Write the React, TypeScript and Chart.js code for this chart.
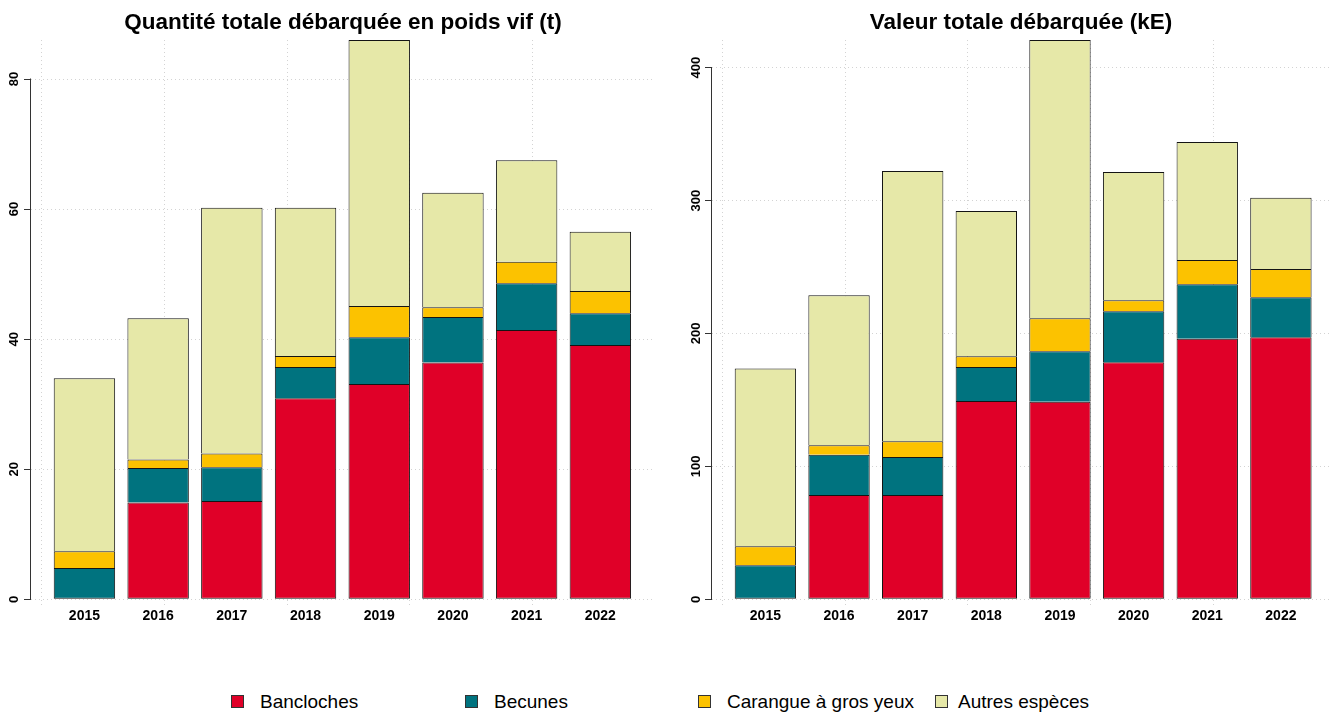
import React, { useEffect, useRef } from "react";
import { Chart, registerables } from "chart.js";

Chart.register(...registerables);

// ---------------- data ----------------
const years = ["2015", "2016", "2017", "2018", "2019", "2020", "2021", "2022"];
const species = ["Bancloches", "Becunes", "Carangue à gros yeux", "Autres espèces"];
const speciesColors = ["#E00028", "#00737F", "#FCC200", "#E6E8A8"];

// Quantité totale débarquée en poids vif (t)
const weightBancloches = [0, 14.9, 15.1, 30.9, 33.1, 36.4, 41.4, 39.1];
const weightBecunes = [4.8, 5.3, 5.2, 4.8, 7.2, 7.0, 7.2, 4.9];
const weightCarangue = [2.6, 1.3, 2.1, 1.7, 4.8, 1.5, 3.3, 3.4];
const weightAutres = [26.6, 21.7, 37.8, 22.8, 40.9, 17.6, 15.6, 9.1];

// Valeur totale débarquée (kE)
const valueBancloches = [0, 78.5, 78.5, 149.2, 148.7, 178.3, 196.1, 197.1];
const valueBecunes = [25.6, 30.3, 28.6, 25.6, 37.9, 38.4, 40.9, 30.1];
const valueCarangue = [14.3, 7.1, 11.8, 8.0, 24.8, 8.3, 18.3, 21.4];
const valueAutres = [133.8, 112.8, 203.4, 109.4, 209.4, 96.5, 88.8, 53.5];

const weightTicks = [0, 20, 40, 60, 80];
const valueTicks = [0, 100, 200, 300, 400];
const xGridValues = [0, 2, 4, 6, 8, 10];

const weightTitle = "Quantité totale débarquée en poids vif (t)";
const valueTitle = "Valeur totale débarquée (kE)";

// ---------------- layout / style ----------------
const FONT = "'Liberation Sans', Arial, Helvetica, sans-serif";
const BAR_WIDTH = 1;
const BAR_SPACE = 0.2;
const X_MIN = -0.17;
const CANVAS_H = 640;

const rAxisLine = {
  id: "rAxisLine",
  afterDraw(chart: any) {
    const ys = chart.scales.y;
    const t = ys.ticks;
    if (!t || !t.length) return;
    const top = ys.getPixelForValue(t[t.length - 1].value);
    const bottom = ys.getPixelForValue(t[0].value);
    const x = Math.round(chart.chartArea.left) - 0.5;
    const ctx = chart.ctx;
    ctx.save();
    ctx.strokeStyle = "#333333";
    ctx.lineWidth = 1;
    ctx.beginPath();
    ctx.moveTo(x, Math.round(top) - 0.5);
    ctx.lineTo(x, Math.round(bottom) + 0.5);
    ctx.stroke();
    ctx.restore();
  },
};

type PanelProps = {
  title: string;
  series: number[][];
  yTicks: number[];
  xMax: number;
  left: number;
  width: number;
  yAxisWidth: number;
  tickPad: number;
  padRight: number;
};

function StackedPanel(props: PanelProps) {
  const ref = useRef<HTMLCanvasElement | null>(null);

  useEffect(() => {
    const canvas = ref.current;
    if (!canvas) return;
    const { series, yTicks, xMax } = props;
    const totals = years.map((_, i) => series.reduce((s, arr) => s + arr[i], 0));
    const yMax = Math.max(...totals);
    const yMin = -yMax * 0.0102;
    const pitch = BAR_WIDTH + BAR_SPACE;
    const positions = years.map((_, i) => BAR_SPACE + BAR_WIDTH / 2 + i * pitch);

    const chart = new Chart(canvas, {
      type: "bar",
      data: {
        datasets: species.map((name, k) => ({
          label: name,
          data: series[k].map((v, i) => ({ x: positions[i], y: v })),
          backgroundColor: speciesColors[k],
          borderColor: "#141414",
          borderWidth: 1,
          borderSkipped: (ctx: any) => {
            const i = ctx.dataIndex;
            let below = 0;
            for (let j = 0; j < k; j++) below += series[j][i];
            return below === 0 ? false : "start";
          },
          barPercentage: BAR_WIDTH / pitch,
          categoryPercentage: 1,
          xAxisID: "x",
          yAxisID: "y",
        })) as any,
      },
      options: {
        responsive: false,
        animation: false,
        devicePixelRatio: 1,
        layout: { padding: { left: 0, right: props.padRight, top: 0, bottom: 0 } },
        plugins: {
          legend: { display: false },
          tooltip: { enabled: false },
          title: {
            display: true,
            text: props.title,
            fullSize: false,
            color: "#000",
            font: { family: FONT, size: 22.5, weight: "bold", lineHeight: 1.2 },
            padding: { top: 9, bottom: 4 },
          },
        },
        scales: {
          x: {
            type: "linear",
            position: "bottom",
            stacked: true,
            min: X_MIN,
            max: xMax,
            offset: false,
            grid: { display: false, drawTicks: false, offset: false },
            border: { display: false },
            ticks: {
              autoSkip: false,
              maxRotation: 0,
              minRotation: 0,
              padding: 3,
              color: "#000",
              font: { family: FONT, size: 14, weight: "bold" },
              callback: (_v: any, i: number) => years[i],
            },
            afterBuildTicks: (s: any) => {
              s.ticks = positions.map((v) => ({ value: v }));
            },
            afterFit: (s: any) => {
              s.height = 35;
            },
          },
          xGrid: {
            type: "linear",
            position: "bottom",
            min: X_MIN,
            max: xMax,
            offset: false,
            grid: { color: "#d3d3d3", lineWidth: 1, drawTicks: false, offset: false },
            border: { display: false, dash: [1, 3] },
            ticks: { display: false },
            afterBuildTicks: (s: any) => {
              s.ticks = xGridValues.filter((v) => v >= X_MIN && v < xMax).map((v) => ({ value: v }));
            },
            afterFit: (s: any) => {
              s.height = 0;
            },
          },
          y: {
            type: "linear",
            position: "left",
            stacked: true,
            min: yMin,
            max: yMax,
            grid: {
              color: "#d3d3d3",
              lineWidth: 1,
              drawTicks: true,
              tickLength: 7,
              tickColor: "#333333",
              tickWidth: 1,
              tickBorderDash: [],
            },
            border: { display: false, dash: [1, 3] },
            ticks: {
              color: "#000",
              font: { family: FONT, size: 13, weight: "bold" },
              padding: props.tickPad,
              minRotation: 90,
              maxRotation: 90,
              crossAlign: "center",
              autoSkip: false,
            },
            afterBuildTicks: (s: any) => {
              s.ticks = yTicks.map((v) => ({ value: v }));
            },
            afterFit: (s: any) => {
              s.width = props.yAxisWidth;
            },
          },
        },
      } as any,
      plugins: [rAxisLine],
    });
    return () => chart.destroy();
  }, []);

  return (
    <canvas
      ref={ref}
      width={props.width}
      height={CANVAS_H}
      style={{ position: "absolute", left: props.left, top: 0, width: props.width, height: CANVAS_H }}
    />
  );
}

const legendBoxLeft = [231, 465, 698, 935];
const legendTextLeft = [260, 494, 727, 958];

export default function App() {
  return (
    <div
      style={{
        position: "fixed",
        left: 0,
        top: 0,
        width: 1330,
        height: 713,
        background: "#fff",
        overflow: "hidden",
        fontFamily: FONT,
      }}
    >
      <StackedPanel
        title={weightTitle}
        series={[weightBancloches, weightBecunes, weightCarangue, weightAutres]}
        yTicks={weightTicks}
        xMax={9.99}
        left={0}
        width={665}
        yAxisWidth={31}
        tickPad={2}
        padRight={10}
      />
      <StackedPanel
        title={valueTitle}
        series={[valueBancloches, valueBecunes, valueCarangue, valueAutres]}
        yTicks={valueTicks}
        xMax={9.9}
        left={665}
        width={665}
        yAxisWidth={47}
        tickPad={-2.5}
        padRight={0}
      />
      {species.map((name, k) => (
        <React.Fragment key={name}>
          <div
            style={{
              position: "absolute",
              left: legendBoxLeft[k],
              top: 695,
              width: 11,
              height: 11,
              background: speciesColors[k],
              border: "1px solid #333",
            }}
          />
          <div
            style={{
              position: "absolute",
              left: legendTextLeft[k],
              top: 692,
              height: 20,
              lineHeight: "20px",
              fontSize: 19,
              color: "#000",
              whiteSpace: "nowrap",
            }}
          >
            {name}
          </div>
        </React.Fragment>
      ))}
    </div>
  );
}
